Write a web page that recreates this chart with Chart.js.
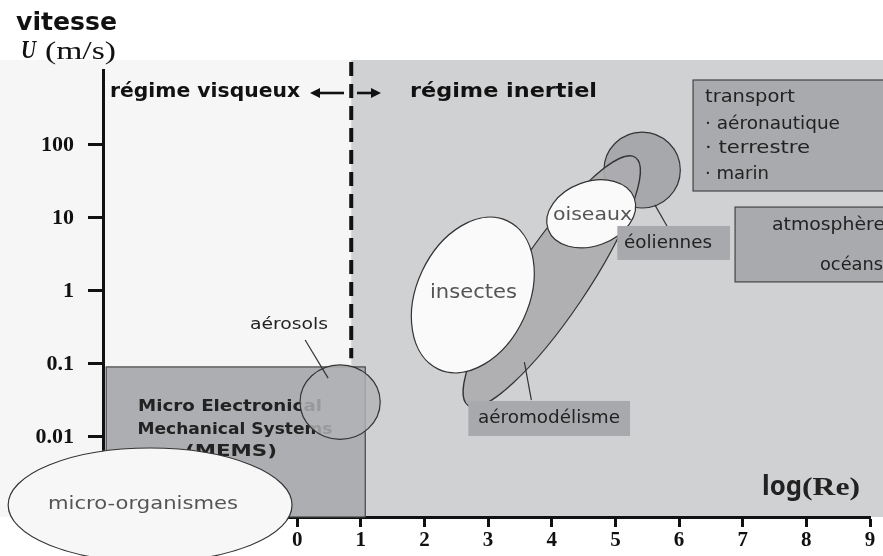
<!DOCTYPE html>
<html>
<head>
<meta charset="utf-8">
<script src="https://cdn.jsdelivr.net/npm/chart.js@4"></script>
<style>
  html, body { margin: 0; padding: 0; background: #fff; }
  #wrap { width: 883px; height: 556px; position: relative; }
</style>
</head>
<body>
<div id="wrap"><canvas id="reChart"></canvas></div>
<script>
// axes
const xTicks = [0, 1, 2, 3, 4, 5, 6, 7, 8, 9];
const yTicks = [0.01, 0.1, 1, 10, 100];
const yTickLabels = ['0.01', '0.1', '1', '10', '100'];
const xRange = [-3.05, 9.0];
const yRange = [0.0008, 1064];

// viscous / inertial limit (log Re) and where the dashed line stops (U)
const regimeLimit = 0.85;
const regimeLimitU = 0.12;

// rectangular domains: [logRe min, logRe max, U min, U max]
const memsDomain = [-3.0, 1.07, 0.0008, 0.091];
const transportDomain = [6.22, 9.4, 23.4, 776];
const atmoDomain = [6.88, 9.4, 1.33, 14.1];
const eoliennesTag = [5.03, 6.80, 2.66, 7.76];
const aeromodTag = [2.69, 5.23, 0.0103, 0.0311];

// elliptic domains: centre logRe, centre U, half-spread in logRe, half-spread in decades
const microOrg = [-2.31, 0.00117, 2.23, 0.78];
const aerosols = [0.675, 0.030, 0.63, 0.51];
const eoliennes = [5.42, 45.3, 0.60, 0.52];
const aeromod = [4.0, 1.35, 0.55, 2.05];
const insectes = [2.76, 0.88, 0.88, 1.12];
const oiseaux = [4.62, 11.4, 0.72, 0.44];

// leader lines [logRe, U] -> [logRe, U]
const aerosolsLead = [[0.126, 0.213], [0.487, 0.064]];
const eoliennesLead = [[5.62, 15.1], [5.81, 7.76]];
const aeromodLead = [[3.57, 0.106], [3.68, 0.032]];

const COMIC = '"Comic Sans MS", "DejaVu Sans", sans-serif';
const SERIF = '"Liberation Serif", "DejaVu Serif", serif';

const shapes = {
  id: 'shapes',
  beforeDraw(chart) {
    const ctx = chart.ctx;
    const X = v => chart.scales.x.getPixelForValue(v);
    const top = 60, bottom = chart.chartArea.bottom;
    ctx.save();
    ctx.fillStyle = '#ffffff';
    ctx.fillRect(0, 0, chart.width, chart.height);
    ctx.fillStyle = '#f6f6f6';
    ctx.fillRect(0, top, X(regimeLimit), bottom - top);
    ctx.fillStyle = '#d0d1d3';
    ctx.fillRect(X(regimeLimit), top, chart.width - X(regimeLimit), bottom - top);
    ctx.restore();
  },
  afterDraw(chart) {
    const ctx = chart.ctx;
    const X = v => chart.scales.x.getPixelForValue(v);
    const Y = v => chart.scales.y.getPixelForValue(v);

    function rect(d, fill, stroke) {
      const x0 = X(d[0]), x1 = X(d[1]), y0 = Y(d[3]), y1 = Y(d[2]);
      ctx.fillStyle = fill;
      ctx.fillRect(x0, y0, x1 - x0, y1 - y0);
      if (stroke) {
        ctx.strokeStyle = stroke;
        ctx.lineWidth = 1.2;
        ctx.strokeRect(x0, y0, x1 - x0, y1 - y0);
      }
      return { x0, x1, y0, y1 };
    }
    function ell(e, fill, rot) {
      const cx = X(e[0]), cy = Y(e[1]);
      const rx = X(e[0] + e[2]) - cx;
      const ry = cy - Y(e[1] * Math.pow(10, e[3]));
      ctx.beginPath();
      ctx.ellipse(cx, cy, rx, ry, (rot || 0) * Math.PI / 180, 0, Math.PI * 2);
      ctx.fillStyle = fill;
      ctx.fill();
      ctx.strokeStyle = '#333';
      ctx.lineWidth = 1.2;
      ctx.stroke();
    }
    function lead(l) {
      ctx.beginPath();
      ctx.moveTo(X(l[0][0]), Y(l[0][1]));
      ctx.lineTo(X(l[1][0]), Y(l[1][1]));
      ctx.strokeStyle = '#333';
      ctx.lineWidth = 1.2;
      ctx.stroke();
    }
    function arrow(x0, x1, y) {
      const dir = Math.sign(x1 - x0);
      ctx.beginPath();
      ctx.moveTo(x0, y);
      ctx.lineTo(x1 - dir * 6, y);
      ctx.strokeStyle = '#111';
      ctx.lineWidth = 2.6;
      ctx.stroke();
      ctx.beginPath();
      ctx.moveTo(x1, y);
      ctx.lineTo(x1 - dir * 10, y - 5);
      ctx.lineTo(x1 - dir * 10, y + 5);
      ctx.closePath();
      ctx.fillStyle = '#111';
      ctx.fill();
    }
    // text squeezed/stretched to the width it takes in the figure
    function text(t, x, y, w, font, color, align) {
      ctx.save();
      ctx.font = font;
      ctx.fillStyle = color;
      ctx.textAlign = 'left';
      ctx.textBaseline = 'middle';
      const k = w / ctx.measureText(t).width;
      const left = align === 'center' ? x - w / 2 : x;
      ctx.translate(left, y);
      ctx.scale(k, 1);
      ctx.fillText(t, 0, 0);
      ctx.restore();
    }

    ctx.save();

    // dashed limit between the two regimes
    ctx.beginPath();
    ctx.setLineDash([14, 8]);
    ctx.moveTo(X(regimeLimit), 62);
    ctx.lineTo(X(regimeLimit), Y(regimeLimitU));
    ctx.strokeStyle = '#111';
    ctx.lineWidth = 4;
    ctx.stroke();
    ctx.setLineDash([]);

    // MEMS
    rect(memsDomain, '#adaeb1', '#444');
    text('Micro Electronical', 230, 407, 184, 'bold 16px ' + COMIC, '#222', 'center');
    text('Mechanical Systems', 235, 430, 195, 'bold 16px ' + COMIC, '#222', 'center');
    text('(MEMS)', 231, 452, 92, 'bold 16px ' + COMIC, '#222', 'center');

    // aerosols
    ell(aerosols, 'rgba(178,179,182,0.82)');
    lead(aerosolsLead);
    text('aérosols', 289, 325, 78, '16px ' + COMIC, '#222', 'center');

    // micro-organisms
    ell(microOrg, '#f7f7f7');
    text('micro-organismes', 48, 505, 190, '17px ' + COMIC, '#555');

    // inertial regime blobs
    ell(eoliennes, '#a7a8ab');
    ell(aeromod, 'rgba(172,173,176,0.92)', 34);
    ell(insectes, '#fafafa', 25);
    text('insectes', 430, 293, 87, '19px ' + COMIC, '#555');
    ell(oiseaux, '#fafafa', -20);
    text('oiseaux', 553, 216, 79, '17px ' + COMIC, '#555');

    lead(eoliennesLead);
    lead(aeromodLead);
    rect(eoliennesTag, '#a8a9ac');
    text('éoliennes', 624, 244, 88, '17px ' + COMIC, '#222');
    rect(aeromodTag, '#a8a9ac');
    text('aéromodélisme', 478, 419, 142, '17px ' + COMIC, '#222');

    // transport / atmosphere
    rect(transportDomain, '#a9aaad', '#444');
    text('transport', 705, 98, 90, '17px ' + COMIC, '#222');
    text('· aéronautique', 705, 125, 135, '17px ' + COMIC, '#222');
    text('· terrestre', 705, 149, 105, '17px ' + COMIC, '#222');
    text('· marin', 705, 175, 64, '17px ' + COMIC, '#222');
    rect(atmoDomain, '#a9aaad', '#444');
    text('atmosphère', 772, 226, 113, '17px ' + COMIC, '#222');
    text('océans', 820, 266, 63, '17px ' + COMIC, '#222');

    // titles
    text('vitesse', 16, 24, 101, 'bold 24px ' + COMIC, '#111');
    text('U', 21, 52, 15, 'italic bold 25px ' + SERIF, '#111');
    text('(m/s)', 45, 52, 71, '25px ' + SERIF, '#111');
    text('régime visqueux', 110, 92, 190, 'bold 19px ' + COMIC, '#111');
    arrow(344, 310, 93);
    arrow(357, 381, 93);
    text('régime inertiel', 410, 92, 187, 'bold 19px ' + COMIC, '#111');
    text('log', 762, 488, 40, 'bold 26px "Noto Sans", sans-serif', '#222');
    text('(Re)', 802, 488, 58, 'bold 26px ' + SERIF, '#222');

    ctx.restore();
  }
};

new Chart(document.getElementById('reChart'), {
  type: 'scatter',
  data: { datasets: [{ data: [], showLine: false }] },
  options: {
    responsive: true,
    maintainAspectRatio: false,
    animation: false,
    layout: { padding: { top: 70, right: 13, left: 0, bottom: 0 } },
    plugins: { legend: { display: false }, tooltip: { enabled: false } },
    scales: {
      x: {
        type: 'linear',
        min: xRange[0],
        max: xRange[1],
        afterBuildTicks: s => { s.ticks = xTicks.map(v => ({ value: v })); },
        afterFit: s => { s.height = 39; },
        border: { display: true, color: '#111', width: 3 },
        grid: { display: true, drawOnChartArea: false, drawTicks: true, tickLength: 10, tickWidth: 3, tickColor: '#111' },
        ticks: { autoSkip: false, maxRotation: 0, padding: 1, color: '#111', font: { family: SERIF, weight: 'bold', size: 21 } }
      },
      y: {
        type: 'logarithmic',
        min: yRange[0],
        max: yRange[1],
        afterBuildTicks: s => { s.ticks = yTicks.map(v => ({ value: v })); },
        afterFit: s => { s.width = 103; },
        border: { display: true, color: '#111', width: 3 },
        grid: { display: true, drawOnChartArea: false, drawTicks: true, tickLength: 15, tickWidth: 3, tickColor: '#111' },
        ticks: {
          autoSkip: false,
          padding: 14,
          color: '#111',
          font: { family: SERIF, weight: 'bold', size: 22 },
          callback: (v, i) => yTickLabels[i]
        }
      }
    }
  },
  plugins: [shapes]
});
</script>
</body>
</html>
